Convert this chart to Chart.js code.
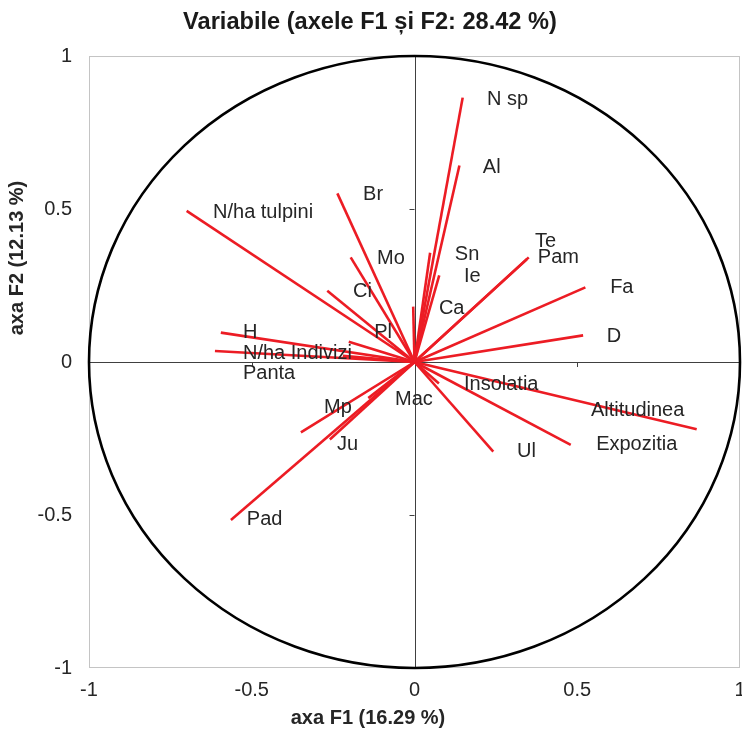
<!DOCTYPE html>
<html>
<head>
<meta charset="utf-8">
<script src="https://cdn.jsdelivr.net/npm/chart.js@4/dist/chart.umd.min.js"></script>
<style>
  html, body { margin: 0; padding: 0; background: #ffffff; }
  canvas { display: block; }
</style>
</head>
<body>
<canvas id="c" width="742" height="730"></canvas>
<script>
// ---- Data ----
const variables = ['N sp','Al','Br','N/ha tulpini','Mo','Sn','Te','Pam','Ie','Ci','Ca','Fa','Pl','H','D','N/ha Indivizi','Panta','Insolatia','Mac','Mp','Altitudinea','Ju','Expozitia','Ul','Pad'];
const F1 = [0.148, 0.138, -0.237, -0.700, -0.196, 0.048, 0.351, 0.345, 0.076, -0.268, -0.004, 0.525, -0.202, -0.595, 0.518, -0.613, -0.220, 0.075, -0.142, -0.349, 0.867, -0.260, 0.480, 0.242, -0.564];
const F2 = [0.864, 0.642, 0.551, 0.494, 0.342, 0.357, 0.342, 0.336, 0.283, 0.233, 0.181, 0.244, 0.066, 0.096, 0.087, 0.036, 0.020, -0.070, -0.118, -0.230, -0.220, -0.253, -0.271, -0.293, -0.516];
// label anchor positions (data units, left edge / vertical middle of text)
const labelX = [0.223, 0.210, -0.158, -0.619, -0.115, 0.124, 0.370, 0.379, 0.152, -0.189, 0.075, 0.601, -0.124, -0.527, 0.591, -0.527, -0.527, 0.152, -0.060, -0.278, 0.542, -0.238, 0.558, 0.315, -0.515];
const labelY = [0.859, 0.637, 0.546, 0.490, 0.337, 0.353, 0.395, 0.340, 0.278, 0.229, 0.176, 0.242, 0.095, 0.095, 0.085, 0.029, -0.036, -0.072, -0.124, -0.150, -0.157, -0.268, -0.271, -0.294, -0.516];
const tickValues = [-1, -0.5, 0, 0.5, 1];

const chartTitle = 'Variabile (axele F1 și F2: 28.42 %)';
const xTitle = 'axa F1 (16.29 %)';
const yTitle = 'axa F2 (12.13 %)';

const FONT = '"Liberation Sans", Arial, Helvetica, sans-serif';
const RED = '#ec1c24';
const TEXT = '#262626';

const decorPlugin = {
  id: 'decor',
  beforeDatasetsDraw(chart) {
    const {ctx, chartArea: a, scales: {x, y}} = chart;
    const x0 = x.getPixelForValue(0), y0 = y.getPixelForValue(0);
    ctx.save();
    // plot box
    ctx.strokeStyle = '#c4c4c4';
    ctx.lineWidth = 1;
    ctx.strokeRect(a.left + 0.5, a.top + 0.5, a.right - a.left - 1, a.bottom - a.top - 1);
    // zero axes
    ctx.strokeStyle = '#404040';
    ctx.beginPath();
    ctx.moveTo(a.left, Math.round(y0) + 0.5); ctx.lineTo(a.right, Math.round(y0) + 0.5);
    ctx.moveTo(Math.round(x0) + 0.5, a.top); ctx.lineTo(Math.round(x0) + 0.5, a.bottom);
    // tick marks on the zero axes
    tickValues.forEach(v => {
      if (v === 0) return;
      const px = Math.round(x.getPixelForValue(v)) + 0.5;
      ctx.moveTo(px, y0); ctx.lineTo(px, y0 + 5);
      const py = Math.round(y.getPixelForValue(v)) + 0.5;
      ctx.moveTo(x0, py); ctx.lineTo(x0 - 5, py);
    });
    ctx.stroke();
    ctx.restore();
  },
  afterDatasetsDraw(chart) {
    const {ctx, scales: {x, y}} = chart;
    const x0 = x.getPixelForValue(0), y0 = y.getPixelForValue(0);
    ctx.save();
    // correlation circle
    ctx.strokeStyle = '#000000';
    ctx.lineWidth = 2.6;
    ctx.beginPath();
    ctx.ellipse(x0, y0, x.getPixelForValue(1) - x0, y0 - y.getPixelForValue(1), 0, 0, Math.PI * 2);
    ctx.stroke();
    // variable labels
    ctx.fillStyle = TEXT;
    ctx.font = '20px ' + FONT;
    ctx.textAlign = 'left';
    ctx.textBaseline = 'middle';
    variables.forEach((v, i) => {
      ctx.fillText(v, x.getPixelForValue(labelX[i]), y.getPixelForValue(labelY[i]));
    });
    // axis titles
    ctx.font = 'bold 20px ' + FONT;
    ctx.textAlign = 'center';
    ctx.fillText(xTitle, 368, 718);
    ctx.translate(17, 258);
    ctx.rotate(-Math.PI / 2);
    ctx.fillText(yTitle, 0, 0);
    ctx.restore();
  }
};

new Chart(document.getElementById('c'), {
  type: 'scatter',
  data: {
    datasets: variables.map((v, i) => ({
      label: v,
      data: [{x: 0, y: 0}, {x: F1[i], y: F2[i]}],
      showLine: true,
      borderColor: RED,
      backgroundColor: RED,
      borderWidth: 2.6,
      pointRadius: 0,
      borderCapStyle: 'butt',
      fill: false
    }))
  },
  options: {
    responsive: false,
    animation: false,
    layout: { padding: { left: 0, right: 2, top: 0, bottom: 0 } },
    plugins: {
      legend: { display: false },
      tooltip: { enabled: false },
      title: {
        display: true,
        text: chartTitle,
        color: '#1a1a1a',
        font: { family: FONT, size: 23.6, weight: 'bold' },
        padding: { top: 8, bottom: 19.7 }
      }
    },
    scales: {
      x: {
        type: 'linear', min: -1, max: 1,
        afterBuildTicks(s) { s.ticks = tickValues.map(v => ({value: v})); },
        ticks: { color: TEXT, font: { family: FONT, size: 20 }, padding: 10, maxRotation: 0,
                 callback: v => String(Math.round(v * 10) / 10) },
        grid: { display: false, drawTicks: false },
        border: { display: false },
        afterFit(s) { s.height = 62; s.paddingLeft = 0; s.paddingRight = 0; }
      },
      y: {
        type: 'linear', min: -1, max: 1,
        afterBuildTicks(s) { s.ticks = tickValues.map(v => ({value: v})); },
        ticks: { color: TEXT, font: { family: FONT, size: 20 }, padding: 17,
                 callback: v => String(Math.round(v * 10) / 10) },
        grid: { display: false, drawTicks: false },
        border: { display: false },
        afterFit(s) { s.width = 89; s.paddingTop = 0; s.paddingBottom = 0; }
      }
    }
  },
  plugins: [decorPlugin]
});
</script>
</body>
</html>
